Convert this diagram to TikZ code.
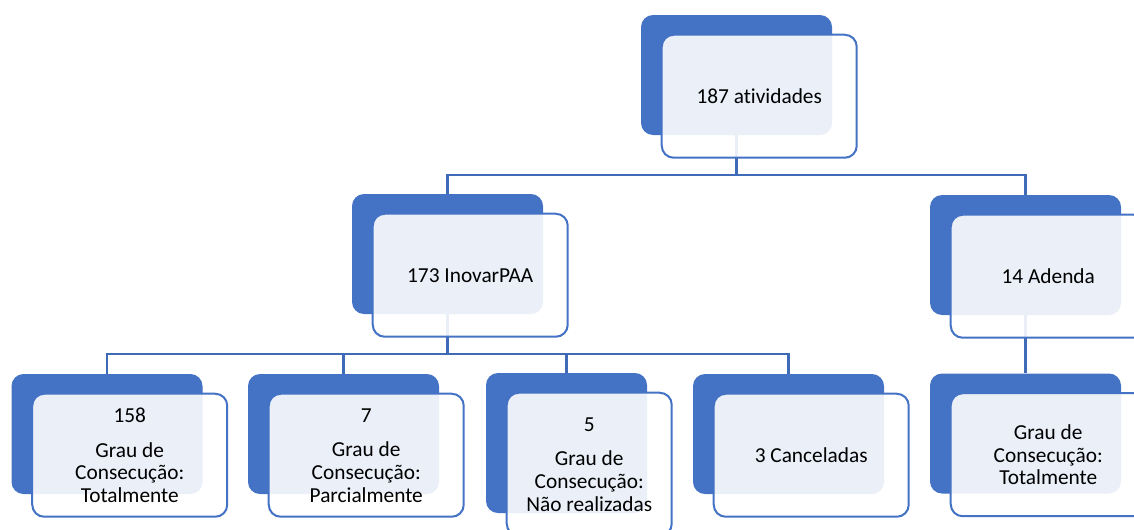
\documentclass[tikz,border=0pt]{standalone}
\usepackage{fontspec}
\setmainfont{Carlito}[Ligatures=NoCommon]
\usetikzlibrary{positioning,backgrounds}
\definecolor{smblue}{HTML}{4472C4}
\definecolor{smline}{HTML}{3F6AB8}
\newcommand{\boxfont}{\fontsize{16}{17}\selectfont}

\begin{document}
\begin{tikzpicture}[x=0.75pt,y=-0.75pt]
\tikzset{
    backbox/.style={fill=smblue,rounded corners=9pt,inner sep=0pt,
        minimum width=143.25pt,minimum height=90pt},
    frontbox/.style={draw=smblue,line width=1.5pt,fill=white,fill opacity=0.89,
        text opacity=1,rounded corners=9pt,align=center,font=\boxfont,
        minimum width=146.25pt,minimum height=92.25pt,
        below right=14.25pt and 15pt of #1.north west},
    link/.style={draw=smline,line width=1.6pt}
}
\useasboundingbox (0,0) rectangle (1134,529);
\clip (0,0) rectangle (1134,529);
\coordinate (bus1) at (0,175);
\coordinate (bus2) at (0,354);
% Back boxes
\node[backbox] (rootbk) at (736.5,75){};
\node[backbox] (inovarbk) at (447.5,254){};
\node[backbox] (adendabk) at (1025.5,255){};
\node[backbox] (totalbk) at (107,434){};
\node[backbox] (parcialbk) at (343.5,434){};
\node[backbox,minimum width=120.75pt,minimum height=105pt] (naobk) at (566.5,443){};
\node[backbox] (cancelbk) at (788.5,434){};
\node[backbox] (adtotalbk) at (1025.5,433.5){};
% Front boxes
\node[frontbox=rootbk,anchor=north west] (root){187 atividades};
\node[frontbox=inovarbk,anchor=north west] (inovar){173 InovarPAA};
\node[frontbox=adendabk,anchor=north west] (adenda){14 Adenda};
\node[frontbox=totalbk,anchor=north west] (total){158\\[9pt]Grau de\\Consecução:\\Totalmente};
\node[frontbox=parcialbk,anchor=north west] (parcial){7\\[9pt]Grau de\\Consecução:\\Parcialmente};
\node[frontbox=naobk,anchor=north west,minimum width=123.75pt,minimum height=107.25pt] (nao){5\\[9pt]Grau de\\Consecução:\\Não realizadas};
\node[frontbox=cancelbk,anchor=north west] (cancel){3 Canceladas};
\node[frontbox=adtotalbk,anchor=north west] (adtotal){Grau de\\Consecução:\\Totalmente};
% Connectors
\begin{scope}[on background layer]
\draw[link](rootbk.south)--(rootbk.south |- bus1);
\draw[link](inovarbk.north)|-(bus1 -| adendabk)--(adendabk.north);
\draw[link](inovarbk.south)--(inovarbk.south |- bus2);
\draw[link](totalbk.north)|-(bus2 -| cancelbk)--(cancelbk.north);
\draw[link](parcialbk.north)--(parcialbk.north |- bus2);
\draw[link](naobk.north)--(naobk.north |- bus2);
\draw[link](adendabk.south)--(adtotalbk.north);
\end{scope}
\end{tikzpicture}
\end{document}
